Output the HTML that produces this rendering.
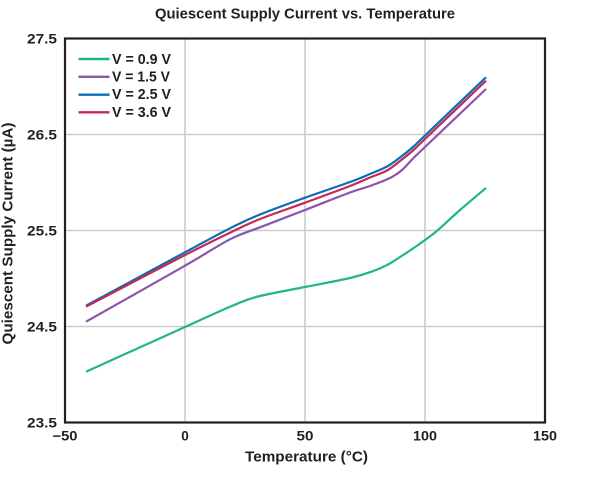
<!DOCTYPE html>
<html>
<head>
<meta charset="utf-8">
<style>
  html, body { margin: 0; padding: 0; background: #ffffff; }
  svg { display: block; }
  text { font-family: "Liberation Sans", "DejaVu Sans", sans-serif; font-weight: bold; fill: #231f20; }
</style>
</head>
<body>
<svg id="chart" width="610" height="502" viewBox="0 0 610 502" xmlns="http://www.w3.org/2000/svg">
  <rect x="0" y="0" width="610" height="502" fill="#ffffff"/>

  <!-- Title -->
  <text x="305" y="18.3" font-size="15" text-anchor="middle" textLength="300" lengthAdjust="spacingAndGlyphs">Quiescent Supply Current vs. Temperature</text>

  <!-- Gridlines -->
  <g stroke="#cccccc" stroke-width="1.6" fill="none">
    <line x1="185" y1="38.5" x2="185" y2="422.5"/>
    <line x1="305" y1="38.5" x2="305" y2="422.5"/>
    <line x1="425" y1="38.5" x2="425" y2="422.5"/>
    <line x1="65" y1="134.5" x2="545" y2="134.5"/>
    <line x1="65" y1="230.5" x2="545" y2="230.5"/>
    <line x1="65" y1="326.5" x2="545" y2="326.5"/>
  </g>

  <!-- Series -->
  <g id="series" fill="none" stroke-width="2.2" stroke-linejoin="round" stroke-linecap="butt">
    <polyline class="smooth" stroke="#21b77e" points="86,371.7 185,327 233,305.5 260,296 305,287 350,278 372,271.5 388,264.5 400,257 413,248.5 425,240 438,230 460,210 486,188"/>
    <polyline class="smooth" stroke="#8c55ad" points="86,321.7 185,265.7 230,239.3 260,227.3 305,210 350,192.5 370,186 390,178 402,170 413,158.5 425,147 486,89"/>
    <polyline class="smooth" stroke="#0b6db7" points="86,305.7 185,252.3 230,228.3 260,214.5 305,197.7 350,182 370,174 387,166.5 400,157.5 413,147 425,135.5 486,77.3"/>
    <polyline class="smooth" stroke="#c42a53" points="86,306.7 185,255 230,232.7 260,219 305,202.7 350,186 370,177.5 387,170.5 400,161 413,150.5 425,139 486,80.7"/>
  </g>

  <!-- Plot frame -->
  <rect x="65" y="38.5" width="480" height="384" fill="none" stroke="#231f20" stroke-width="2.2"/>

  <!-- Legend -->
  <g stroke-width="2.4">
    <line x1="78.5" y1="59" x2="109.5" y2="59" stroke="#21b77e"/>
    <line x1="78.5" y1="76.8" x2="109.5" y2="76.8" stroke="#8c55ad"/>
    <line x1="78.5" y1="94.7" x2="109.5" y2="94.7" stroke="#0b6db7"/>
    <line x1="78.5" y1="112.3" x2="109.5" y2="112.3" stroke="#c42a53"/>
  </g>
  <g font-size="15">
    <text x="112" y="64" textLength="59" lengthAdjust="spacingAndGlyphs">V = 0.9 V</text>
    <text x="112" y="81.6" textLength="58" lengthAdjust="spacingAndGlyphs">V = 1.5 V</text>
    <text x="112" y="99.2" textLength="59" lengthAdjust="spacingAndGlyphs">V = 2.5 V</text>
    <text x="112" y="116.8" textLength="59" lengthAdjust="spacingAndGlyphs">V = 3.6 V</text>
  </g>

  <!-- Y tick labels -->
  <g font-size="13.5" text-anchor="end">
    <text x="57" y="43.3" textLength="30" lengthAdjust="spacingAndGlyphs">27.5</text>
    <text x="57" y="139.3" textLength="30" lengthAdjust="spacingAndGlyphs">26.5</text>
    <text x="57" y="235.3" textLength="30" lengthAdjust="spacingAndGlyphs">25.5</text>
    <text x="57" y="331.3" textLength="30" lengthAdjust="spacingAndGlyphs">24.5</text>
    <text x="57" y="427.3" textLength="30" lengthAdjust="spacingAndGlyphs">23.5</text>
  </g>

  <!-- X tick labels -->
  <g font-size="13.5" text-anchor="middle">
    <text x="65" y="440.5" textLength="25" lengthAdjust="spacingAndGlyphs">−50</text>
    <text x="185" y="440.5">0</text>
    <text x="305" y="440.5" textLength="17" lengthAdjust="spacingAndGlyphs">50</text>
    <text x="425" y="440.5" textLength="24" lengthAdjust="spacingAndGlyphs">100</text>
    <text x="545" y="440.5" textLength="24" lengthAdjust="spacingAndGlyphs">150</text>
  </g>

  <!-- Axis titles -->
  <text x="306.5" y="461.5" font-size="15" text-anchor="middle" textLength="123" lengthAdjust="spacingAndGlyphs">Temperature (°C)</text>
  <text transform="translate(12.5,233.5) rotate(-90)" x="0" y="0" font-size="15" text-anchor="middle" textLength="222" lengthAdjust="spacingAndGlyphs">Quiescent Supply Current (µA)</text>
</svg>
<script>
(function(){
  var NS = "http://www.w3.org/2000/svg";
  var lines = document.querySelectorAll("polyline.smooth");
  for (var k = 0; k < lines.length; k++) {
    var pl = lines[k];
    var pts = pl.getAttribute("points").trim().split(/\s+/).map(function(s){
      var a = s.split(","); return [parseFloat(a[0]), parseFloat(a[1])];
    });
    var d = "M" + pts[0][0] + "," + pts[0][1];
    for (var i = 0; i < pts.length - 1; i++) {
      var p0 = pts[i > 0 ? i - 1 : i], p1 = pts[i], p2 = pts[i + 1], p3 = pts[i + 2 < pts.length ? i + 2 : i + 1];
      var c1x = p1[0] + (p2[0] - p0[0]) / 6, c1y = p1[1] + (p2[1] - p0[1]) / 6;
      var c2x = p2[0] - (p3[0] - p1[0]) / 6, c2y = p2[1] - (p3[1] - p1[1]) / 6;
      d += " C" + c1x.toFixed(2) + "," + c1y.toFixed(2) + " " + c2x.toFixed(2) + "," + c2y.toFixed(2) + " " + p2[0] + "," + p2[1];
    }
    var path = document.createElementNS(NS, "path");
    path.setAttribute("d", d);
    path.setAttribute("stroke", pl.getAttribute("stroke"));
    path.setAttribute("fill", "none");
    pl.parentNode.replaceChild(path, pl);
  }
})();
</script>
</body>
</html>
